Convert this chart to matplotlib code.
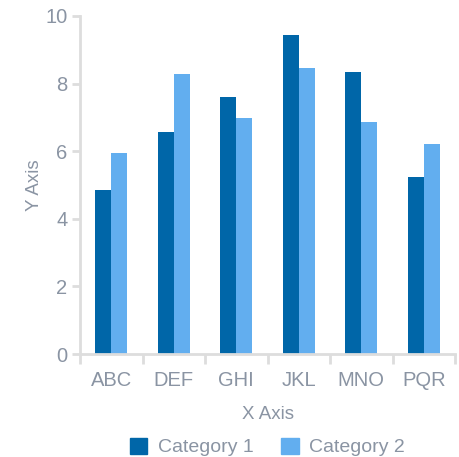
import numpy as np
import matplotlib.pyplot as plt
from matplotlib.patches import Patch

categories = ['ABC', 'DEF', 'GHI', 'JKL', 'MNO', 'PQR']
cat1_values = [4.85, 6.57, 7.6, 9.44, 8.34, 5.24]
cat2_values = [5.95, 8.28, 6.98, 8.47, 6.86, 6.21]
series_names = ['Category 1', 'Category 2']

c1 = '#0066a8'
c2 = '#62aeef'
text_color = '#8a94a3'
axis_color = '#dddddd'

plt.rcParams['font.family'] = ['Liberation Sans', 'DejaVu Sans']

fig = plt.figure(figsize=(4.59, 4.57), dpi=100)
ax = fig.add_axes([80 / 459, 103 / 457, 375 / 459, 338 / 457])

x = np.arange(len(categories))
w = 0.255
ax.bar(x - w / 2, cat1_values, width=w, color=c1, linewidth=0)
ax.bar(x + w / 2, cat2_values, width=w, color=c2, linewidth=0)

ax.set_xlim(-0.5, len(categories) - 0.5)
ax.set_ylim(0, 10)
ax.set_yticks([0, 2, 4, 6, 8, 10])
ax.set_xticks(x)
ax.set_xticklabels(categories)
ax.set_xticks(np.arange(len(categories) + 1) - 0.5, minor=True)

for s in ['top', 'right']:
    ax.spines[s].set_visible(False)
for s in ['left', 'bottom']:
    ax.spines[s].set_color(axis_color)
    ax.spines[s].set_linewidth(2)

ax.tick_params(axis='x', which='major', length=0, pad=12, labelsize=14.5, labelcolor=text_color)
ax.tick_params(axis='x', which='minor', length=7, width=2, color=axis_color)
ax.tick_params(axis='y', length=6, width=2, color=axis_color, pad=3,
               labelsize=14.5, labelcolor=text_color)

ax.set_xlabel('X Axis', fontsize=13.5, color=text_color, labelpad=12)
ax.set_ylabel('Y Axis', fontsize=13.5, color=text_color)
ax.yaxis.set_label_coords(-0.099, 0.5)

handles = [Patch(color=c1), Patch(color=c2)]
ax.legend(handles, series_names, loc='center', bbox_to_anchor=(0.5, -0.275),
          ncol=2, frameon=False, fontsize=14, labelcolor=text_color,
          handlelength=0.9, handleheight=0.9, columnspacing=1.4, handletextpad=0.55,
          borderpad=0)

fig.savefig('out.png', dpi=100)
